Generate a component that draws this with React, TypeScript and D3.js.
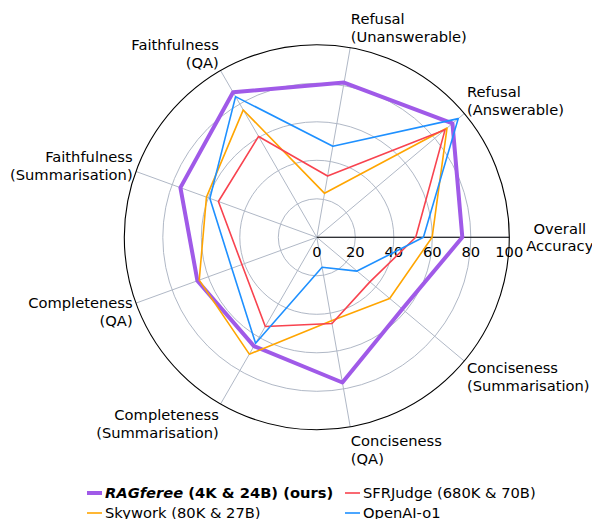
import { useEffect, useRef } from 'react';
import * as d3 from 'd3';

// axis labels, counter-clockwise from 3 o'clock
const categories = [
    'Overall\nAccuracy',
    'Refusal\n(Answerable)',
    'Refusal\n(Unanswerable)',
    'Faithfulness\n(QA)',
    'Faithfulness\n(Summarisation)',
    'Completeness\n(QA)',
    'Completeness\n(Summarisation)',
    'Conciseness\n(QA)',
    'Conciseness\n(Summarisation)',
];

const ragferee = [75.6, 92, 81.6, 87, 75.4, 66, 65.3, 76.6, 58];
const skywork = [59.9, 88.3, 23.2, 76.4, 61, 65, 70.1, 44, 49.4];
const sfrjudge = [51.4, 87, 32.3, 60.5, 54.4, 41.4, 53.5, 45.5, 36];
const openai = [55.4, 95.9, 48, 84.4, 59.1, 47, 63.6, 15.8, 27.3];

const radialTicks = [0, 20, 40, 60, 80, 100];
const gridRings = [20, 40, 60, 80];

const [width, height] = [592, 519];
const [cx, cy, R] = [316.8, 237.3, 192.5];
const fontSize = 14.7;
const font = '"DejaVu Sans", sans-serif';

const series = [
    { name: 'RAGferee', values: ragferee, color: '#a05ae8', lw: 4 },
    { name: 'Skywork (80K & 27B)', values: skywork, color: '#ffa500', lw: 1.6 },
    { name: 'SFRJudge (680K & 70B)', values: sfrjudge, color: '#f8434f', lw: 1.6 },
    { name: 'OpenAI-o1', values: openai, color: '#1e90ff', lw: 1.6 },
];

function App() {
    const node = useRef<SVGSVGElement>(null);
    useEffect(() => {
        if (!node.current) return;
        const svg = d3.select(node.current);
        svg.selectAll('*').remove();

        const n = categories.length;
        const r = d3.scaleLinear().domain([0, 100]).range([0, R]);
        const theta = d3.scaleLinear().domain([0, n]).range([0, 2 * Math.PI]);

        const g = svg.append('g').attr('transform', `translate(${cx},${cy})`);

        /** grid */
        g.selectAll('circle.ring')
            .data(gridRings)
            .enter()
            .append('circle')
            .attr('r', d => r(d))
            .attr('fill', 'none')
            .attr('stroke', '#b0b8c6')
            .attr('stroke-width', 1);
        g.selectAll('line.spoke')
            .data(d3.range(n))
            .enter()
            .append('line')
            .attr('x1', 0).attr('y1', 0)
            .attr('x2', i => R * Math.cos(theta(i)))
            .attr('y2', i => -R * Math.sin(theta(i)))
            .attr('stroke', '#b0b8c6')
            .attr('stroke-width', 1);

        /** spines */
        g.append('circle').attr('r', R).attr('fill', 'none').attr('stroke', '#000').attr('stroke-width', 1.1);
        g.append('line').attr('x1', 0).attr('y1', 0).attr('x2', R).attr('y2', 0)
            .attr('stroke', '#000').attr('stroke-width', 1.1);

        /** radial tick labels */
        g.selectAll('text.rtick')
            .data(radialTicks)
            .enter()
            .append('text')
            .attr('x', d => r(d))
            .attr('y', 19.9)
            .attr('text-anchor', 'middle')
            .attr('font-size', fontSize)
            .attr('font-family', font)
            .text(d => d);

        /** category labels */
        categories.forEach((c, i) => {
            const a = theta(i);
            const lines = c.split('\n');
            let x: number, yc: number, anchor: string;
            if (i === 0) {
                x = 243; yc = 0; anchor = 'middle';
            } else {
                const rr = R + 3.5;
                x = rr * Math.cos(a);
                yc = -rr * Math.sin(a) + 1.5 - 18 * Math.sin(a);
                anchor = Math.cos(a) > 0 ? 'start' : 'end';
            }
            const t = g.append('text')
                .attr('text-anchor', anchor)
                .attr('font-size', fontSize)
                .attr('font-family', font);
            lines.forEach((l, k) => {
                t.append('tspan').attr('x', x).attr('y', yc - 3.8 + k * 18).text(l);
            });
        });

        /** series */
        const line = d3.lineRadial<number>()
            .angle((d, i) => Math.PI / 2 - theta(i))
            .radius(d => r(d))
            .curve(d3.curveLinearClosed);
        series.forEach(s => {
            g.append('path')
                .attr('d', line(s.values))
                .attr('fill', 'none')
                .attr('stroke', s.color)
                .attr('stroke-width', s.lw)
                .attr('stroke-linejoin', 'round');
        });

        /** legend, two columns filled column-wise */
        const colX = [87, 345];
        const rowY = [493, 513];
        series.forEach((s, i) => {
            const col = Math.floor(i / 2), row = i % 2;
            const lx = colX[col], ly = rowY[row];
            svg.append('line')
                .attr('x1', lx).attr('x2', lx + 15)
                .attr('y1', ly).attr('y2', ly)
                .attr('stroke', s.color).attr('stroke-width', s.lw);
            const t = svg.append('text')
                .attr('x', lx + 18).attr('y', ly + 4.7)
                .attr('font-size', fontSize)
                .attr('font-family', font);
            if (i === 0) {
                t.append('tspan').attr('font-weight', 'bold').attr('font-style', 'italic').text(s.name);
                t.append('tspan').attr('font-weight', 'bold').text(' (4K & 24B) (ours)');
            } else {
                t.text(s.name);
            }
        });
    }, [node]);

    return (
        <svg ref={node} width={width} height={height}
            style={{ position: 'absolute', left: 0, top: 0, background: '#fff' }}></svg>
    );
}

export default App;
